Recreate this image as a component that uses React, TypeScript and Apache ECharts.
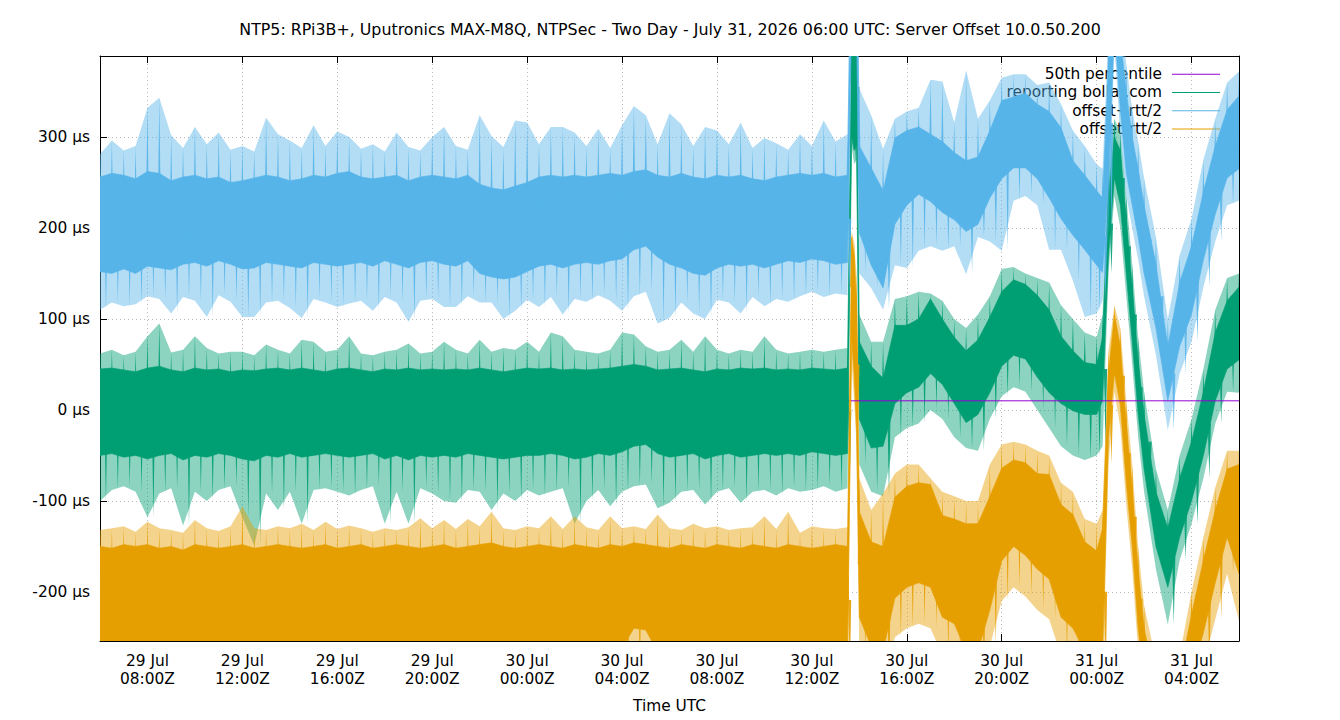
import React, { useEffect, useRef } from "react";
import * as echarts from "echarts";

// Hours on the x axis are counted from 29 Jul 00:00Z; samples are stored as hours after the first one.
const T0 = 6;
const X_MIN = 6;
const X_MAX = 54;
const Y_MIN = -254;
const Y_MAX = 389;
const MEDIAN_US = 10;
const DATA_GAP_HOUR = 31.65;

const TITLE =
  "NTP5: RPi3B+, Uputronics MAX-M8Q, NTPSec - Two Day - July 31, 2026 06:00 UTC: Server Offset 10.0.50.200";
const NAME_MEDIAN = "50th percentile";
const NAME_OFFSET = "reporting bollar.com";
const NAME_PLUS = "offset+rtt/2";
const NAME_MINUS = "offset-rtt/2";

const COLOR_MEDIAN = "#9400d3";
const COLOR_OFFSET = "#009e73";
const COLOR_PLUS = "#56b4e9";
const COLOR_MINUS = "#e69f00";

// Each row: [hour, spike low, band low, band high, spike high] in µs
type Row = [number, number, number, number, number];

const offsetRows: Row[] = [
  [0, -100, -50, 45, 62], [0.5, -88, -48, 46, 66], [1, -84, -52, 44, 60], [1.5, -90, -50, 42, 64],
  [2, -118, -54, 46, 81], [2.5, -92, -50, 48, 95], [3, -86, -48, 44, 63], [3.5, -127, -55, 42, 66],
  [4, -90, -50, 46, 81], [4.5, -100, -52, 44, 68], [5, -88, -48, 45, 62], [5.5, -84, -50, 42, 64],
  [6, -118, -54, 44, 64], [6.5, -149, -56, 43, 60], [7, -92, -50, 45, 72], [7.5, -110, -52, 46, 66],
  [8, -90, -48, 44, 62], [8.5, -125, -52, 46, 77], [9, -88, -50, 44, 75], [9.5, -86, -48, 42, 64],
  [10, -90, -50, 45, 66], [10.5, -94, -52, 46, 81], [11, -88, -50, 44, 62], [11.5, -84, -48, 42, 60],
  [12, -125, -54, 45, 64], [12.5, -90, -50, 44, 66], [13, -125, -55, 46, 73], [13.5, -86, -50, 44, 62],
  [14, -92, -52, 45, 64], [14.5, -100, -50, 44, 75], [15, -102, -52, 45, 66], [15.5, -88, -48, 44, 62],
  [16, -90, -50, 46, 77], [16.5, -110, -52, 44, 64], [17, -92, -54, 42, 68], [17.5, -100, -52, 44, 66],
  [18, -88, -50, 46, 75], [18.5, -94, -50, 45, 64], [19, -90, -48, 46, 85], [19.5, -86, -50, 44, 81],
  [20, -125, -54, 45, 66], [20.5, -100, -52, 44, 64], [21, -88, -48, 45, 62], [21.5, -106, -50, 46, 66],
  [22, -90, -46, 48, 85], [22.5, -84, -40, 50, 83], [23, -82, -38, 48, 70], [23.5, -108, -48, 44, 64],
  [24, -102, -52, 45, 66], [24.5, -90, -50, 46, 77], [25, -88, -48, 44, 64], [25.5, -104, -54, 42, 81],
  [26, -90, -50, 45, 66], [26.5, -86, -48, 44, 62], [27, -102, -52, 46, 66], [27.5, -90, -50, 45, 64],
  [28, -88, -48, 46, 81], [28.5, -94, -50, 44, 66], [29, -86, -48, 45, 62], [29.5, -90, -50, 44, 64],
  [30, -88, -46, 46, 66], [30.5, -84, -48, 45, 64], [31, -90, -50, 44, 66], [31.5, -86, -48, 46, 68],
  [31.68, 290, 300, 420, 450], [31.78, 270, 285, 410, 440], [31.88, 275, 290, 420, 450],
  [32, -60, -10, 75, 105], [32.5, -90, -42, 48, 75], [33, -95, -40, 35, 75], [33.5, -30, 7, 93, 122],
  [34, -20, 19, 93, 125], [34.5, -15, 25, 100, 130], [35, 0, 40, 122, 128], [35.5, -10, 28, 100, 120],
  [36, -30, 7, 80, 100], [36.5, -42, -14, 65, 90], [37, -45, -5, 77, 105], [37.5, -10, 19, 102, 125],
  [38, 15, 48, 130, 155], [38.5, 25, 60, 143, 157], [39, 20, 56, 138, 150], [39.5, 0, 36, 126, 145],
  [40, -20, 19, 110, 140], [40.5, -40, 7, 81, 115], [41, -50, -1, 65, 100], [41.5, -55, -5, 52, 85],
  [42, -50, -5, 50, 80], [42.25, -40, 10, 80, 105], [42.5, 150, 170, 240, 265], [42.75, 235, 255, 300, 320],
  [43, 200, 225, 285, 305], [43.25, 125, 150, 210, 235], [43.5, 50, 75, 135, 160], [43.75, -30, -5, 55, 80],
  [44, -90, -65, -5, 20], [44.5, -175, -150, -90, -65], [45, -236, -195, -130, -110], [45.5, -165, -140, -75, -50],
  [46, -125, -100, -35, -10], [46.5, -75, -50, 20, 45], [47, -15, 10, 85, 110], [47.5, 20, 45, 120, 145],
  [48, 19, 55, 135, 150],
];

const offsetPlusRows: Row[] = [
  [0, 110, 152, 256, 281], [0.5, 118, 150, 260, 296], [1, 114, 155, 258, 285], [1.5, 116, 150, 254, 290],
  [2, 125, 158, 262, 332], [2.5, 122, 156, 260, 343], [3, 106, 154, 252, 302], [3.5, 124, 160, 256, 288],
  [4, 120, 162, 258, 311], [4.5, 102, 158, 254, 292], [5, 126, 164, 256, 305], [5.5, 119, 160, 250, 286],
  [6, 102, 155, 252, 290], [6.5, 102, 156, 255, 284], [7, 118, 162, 258, 321], [7.5, 120, 160, 256, 303],
  [8, 112, 158, 252, 296], [8.5, 101, 156, 254, 288], [9, 122, 162, 258, 313], [9.5, 118, 160, 256, 290],
  [10, 113, 158, 260, 306], [10.5, 117, 160, 262, 300], [11, 120, 162, 256, 287], [11.5, 109, 158, 254, 292],
  [12, 124, 164, 256, 284], [12.5, 118, 160, 258, 305], [13, 97, 156, 252, 289], [13.5, 120, 162, 256, 285],
  [14, 122, 164, 258, 300], [14.5, 113, 160, 256, 311], [15, 113, 158, 254, 290], [15.5, 125, 164, 258, 286],
  [16, 118, 150, 248, 324], [16.5, 118, 146, 244, 301], [17, 100, 144, 242, 289], [17.5, 109, 146, 246, 318],
  [18, 121, 152, 250, 316], [18.5, 113, 158, 256, 292], [19, 124, 160, 258, 311], [19.5, 105, 156, 256, 311],
  [20, 122, 160, 258, 305], [20.5, 119, 162, 256, 290], [21, 126, 160, 258, 309], [21.5, 120, 164, 260, 288],
  [22, 109, 166, 258, 313], [22.5, 125, 176, 262, 334], [23, 130, 180, 264, 324], [23.5, 95, 168, 258, 292],
  [24, 101, 160, 256, 326], [24.5, 118, 156, 260, 314], [25, 106, 150, 256, 290], [25.5, 100, 148, 254, 311],
  [26, 121, 156, 258, 307], [26.5, 118, 160, 256, 292], [27, 106, 158, 258, 316], [27.5, 124, 160, 254, 288],
  [28, 114, 156, 252, 299], [28.5, 122, 160, 256, 293], [29, 119, 164, 258, 286], [29.5, 125, 162, 260, 303],
  [30, 130, 166, 258, 290], [30.5, 124, 164, 260, 318], [31, 128, 160, 256, 295], [31.5, 126, 162, 258, 303],
  [31.68, 420, 450, 560, 600], [31.78, 430, 460, 570, 610], [31.88, 400, 430, 540, 580],
  [32, 150, 195, 290, 353], [32.5, 134, 159, 266, 324], [33, 110, 134, 241, 287], [33.5, 159, 204, 299, 320],
  [34, 156, 225, 307, 328], [34.5, 175, 237, 311, 332], [35, 180, 229, 303, 363], [35.5, 175, 217, 295, 361],
  [36, 180, 209, 283, 316], [36.5, 149, 196, 274, 373], [37, 190, 204, 278, 320], [37.5, 185, 233, 307, 340],
  [38, 175, 254, 340, 365], [38.5, 230, 266, 344, 369], [39, 235, 266, 348, 369], [39.5, 225, 254, 336, 357],
  [40, 176, 233, 328, 360], [40.5, 176, 210, 310, 336], [41, 142, 192, 274, 307], [41.5, 102, 176, 258, 290],
  [42, 106, 159, 241, 270], [42.25, 120, 151, 233, 265], [42.5, 200, 250, 380, 420], [42.75, 400, 420, 520, 540],
  [43, 300, 330, 410, 440], [43.25, 235, 260, 350, 380], [43.5, 200, 225, 300, 330], [43.75, 165, 190, 265, 295],
  [44, 125, 150, 225, 255], [44.5, 60, 90, 160, 190], [45, -22, 10, 70, 100], [45.5, 40, 70, 140, 170],
  [46, 75, 105, 180, 210], [46.5, 135, 165, 240, 275], [47, 185, 215, 290, 320], [47.5, 225, 255, 330, 360],
  [48, 230, 265, 345, 372],
];

const offsetMinusRows: Row[] = [
  [0, -310, -268, -150, -132], [0.5, -310, -270, -152, -130], [1, -305, -266, -148, -128], [1.5, -310, -268, -150, -134],
  [2, -312, -270, -148, -123], [2.5, -308, -266, -152, -130], [3, -310, -268, -150, -132], [3.5, -306, -270, -154, -135],
  [4, -310, -268, -148, -121], [4.5, -312, -266, -150, -130], [5, -308, -268, -152, -133], [5.5, -310, -270, -150, -128],
  [6, -306, -266, -148, -106], [6.5, -310, -268, -152, -130], [7, -312, -270, -150, -132], [7.5, -308, -266, -148, -128],
  [8, -310, -268, -150, -130], [8.5, -306, -270, -152, -125], [9, -310, -268, -150, -132], [9.5, -312, -266, -148, -123],
  [10, -308, -268, -152, -131], [10.5, -310, -270, -150, -127], [11, -306, -266, -148, -130], [11.5, -310, -268, -152, -134],
  [12, -312, -270, -150, -130], [12.5, -308, -266, -148, -132], [13, -310, -268, -150, -129], [13.5, -306, -270, -152, -119],
  [14, -310, -268, -150, -130], [14.5, -312, -266, -148, -121], [15, -308, -268, -152, -131], [15.5, -310, -270, -150, -120],
  [16, -306, -266, -148, -128], [16.5, -310, -268, -146, -112], [17, -312, -270, -150, -130], [17.5, -308, -266, -152, -132],
  [18, -310, -268, -150, -128], [18.5, -306, -270, -148, -130], [19, -310, -268, -150, -117], [19.5, -312, -266, -152, -131],
  [20, -308, -268, -148, -117], [20.5, -310, -270, -150, -129], [21, -306, -266, -152, -132], [21.5, -310, -268, -148, -117],
  [22, -312, -262, -150, -130], [22.5, -290, -240, -146, -128], [23, -292, -242, -148, -131], [23.5, -308, -266, -150, -115],
  [24, -310, -268, -152, -130], [24.5, -312, -266, -148, -132], [25, -308, -268, -150, -125], [25.5, -310, -270, -152, -130],
  [26, -306, -266, -148, -128], [26.5, -310, -268, -150, -132], [27, -312, -270, -152, -130], [27.5, -308, -266, -148, -129],
  [28, -310, -268, -150, -117], [28.5, -306, -270, -152, -131], [29, -310, -268, -148, -112], [29.5, -312, -266, -150, -135],
  [30, -308, -268, -152, -128], [30.5, -310, -270, -150, -130], [31, -306, -266, -148, -131], [31.5, -310, -268, -150, -129],
  [31.68, 50, 80, 190, 196], [31.78, 10, 40, 170, 185], [31.88, -38, -20, 120, 150],
  [32, -270, -228, -112, -75], [32.5, -300, -260, -145, -110], [33, -305, -265, -150, -92], [33.5, -250, -207, -96, -70],
  [34, -240, -195, -84, -60], [34.5, -235, -190, -80, -60], [35, -240, -195, -82, -75], [35.5, -270, -228, -116, -90],
  [36, -280, -235, -120, -95], [36.5, -305, -265, -125, -100], [37, -305, -265, -125, -100], [37.5, -260, -220, -95, -60],
  [38, -210, -166, -64, -38], [38.5, -195, -150, -55, -35], [39, -205, -160, -58, -38], [39.5, -220, -175, -70, -45],
  [40, -230, -186, -71, -50], [40.5, -270, -228, -104, -80], [41, -285, -240, -115, -90], [41.5, -305, -265, -145, -120],
  [42, -320, -280, -155, -125], [42.25, -310, -270, -130, -110], [42.5, -60, -30, 40, 65], [42.75, 20, 40, 105, 115],
  [43, -20, 5, 70, 90], [43.25, -105, -80, -15, 10], [43.5, -175, -150, -85, -60], [43.75, -265, -240, -175, -150],
  [44, -330, -300, -240, -215], [44.5, -390, -360, -300, -275], [45, -410, -380, -320, -300], [45.5, -380, -350, -290, -270],
  [46, -320, -290, -225, -200], [46.5, -280, -245, -165, -140], [47, -230, -190, -110, -85], [47.5, -180, -140, -65, -45],
  [48, -232, -180, -60, -45],
];

const FONT = "'DejaVu Sans', 'Liberation Sans', sans-serif";
const TEXT_SIZE = 15.4;
const TITLE_SIZE = 15.85;

// Filled envelope between two columns of the rows, drawn as one polygon
function envelopeSeries(name: string, rows: Row[], color: string, loCol: number, hiCol: number, opacity: number, z: number) {
  return {
    type: "custom",
    name,
    z,
    clip: true,
    silent: true,
    itemStyle: { color },
    data: [[rows[0][0] + T0, rows[0][loCol]]],
    encode: { x: 0, y: 1 },
    renderItem: (_params: any, api: any) => {
      const top = rows.map((r) => api.coord([r[0] + T0, r[hiCol]]));
      const bottom = rows.map((r) => api.coord([r[0] + T0, r[loCol]])).reverse();
      return {
        type: "polygon",
        shape: { points: top.concat(bottom) },
        style: { fill: color, opacity, stroke: color, lineWidth: opacity < 1 ? 0 : 0.6 },
      };
    },
  };
}

// Narrow spikes: one up to the spike high at each sample, one down to the spike low half-way to the next
function spikeSeries(name: string, rows: Row[], color: string, z: number) {
  const data = rows.map((r, i) => {
    const next = rows[i + 1] ? rows[i + 1][0] : r[0] + 0.5;
    return [r[0] + T0, r[1], r[2], r[3], r[4], (r[0] + next) / 2 + T0];
  });
  return {
    type: "custom",
    name,
    z,
    clip: true,
    silent: true,
    itemStyle: { color },
    data,
    encode: { x: 0, y: 4 },
    renderItem: (_params: any, api: any) => {
      const t = api.value(0);
      const tMid = api.value(5);
      const mid = (api.value(2) + api.value(3)) / 2;
      const upBase = api.coord([t, mid]);
      const upTip = api.coord([t, api.value(4)]);
      const dnBase = api.coord([tMid, mid]);
      const dnTip = api.coord([tMid, api.value(1)]);
      const w = 1.6;
      const style = { fill: color, opacity: 0.9 };
      return {
        type: "group",
        children: [
          {
            type: "polygon",
            shape: { points: [[upBase[0] - w, upBase[1]], upTip, [upBase[0] + w, upBase[1]]] },
            style,
          },
          {
            type: "polygon",
            shape: { points: [[dnBase[0] - w, dnBase[1]], dnTip, [dnBase[0] + w, dnBase[1]]] },
            style,
          },
        ],
      };
    },
  };
}

function medianSeries(from: number, to: number, z: number) {
  return {
    type: "line",
    name: NAME_MEDIAN,
    z,
    data: [
      [from + T0, MEDIAN_US],
      [to + T0, MEDIAN_US],
    ],
    symbol: "none",
    showSymbol: false,
    silent: true,
    itemStyle: { color: COLOR_MEDIAN },
    lineStyle: { color: COLOR_MEDIAN, width: 1 },
  };
}

function trace(name: string, rows: Row[], color: string, z: number) {
  return [
    envelopeSeries(name, rows, color, 1, 4, 0.45, z),
    envelopeSeries(name, rows, color, 2, 3, 1, z + 1),
    spikeSeries(name, rows, color, z + 2),
  ];
}

function xLabel(v: number) {
  const day = 29 + Math.floor(v / 24);
  const hh = String(v % 24).padStart(2, "0");
  return `${day} Jul\n${hh}:00Z`;
}

export default function App() {
  const ref = useRef<HTMLDivElement>(null);

  useEffect(() => {
    document.body.style.margin = "0";
    if (!ref.current) return;
    const chart = echarts.init(ref.current, undefined, { renderer: "svg" });

    const dotted = { color: "#b8b8b8", width: 1, type: [1, 3] as number[] };
    const frame = { show: true, onZero: false, lineStyle: { color: "#000", width: 1 } };
    const tick = { show: true, inside: true, length: 7, lineStyle: { color: "#000" } };

    chart.setOption({
      animation: false,
      backgroundColor: "#fff",
      textStyle: { fontFamily: FONT, fontSize: TEXT_SIZE, color: "#000" },
      title: {
        text: TITLE,
        left: 670,
        textAlign: "center",
        top: 21,
        padding: 0,
        z: 0,
        textStyle: { fontFamily: FONT, fontSize: TITLE_SIZE, fontWeight: "normal", color: "#000" },
      },
      legend: {
        data: [NAME_MEDIAN, NAME_OFFSET, NAME_PLUS, NAME_MINUS],
        orient: "vertical",
        right: 120,
        top: 65,
        align: "right",
        icon: "rect",
        itemWidth: 48,
        itemHeight: 1,
        itemGap: 0,
        padding: 0,
        z: 0,
        selectedMode: false,
        textStyle: { fontFamily: FONT, fontSize: TEXT_SIZE, color: "#000", lineHeight: 18.3, padding: [0, 5, 0, 0] },
      },
      grid: { left: 100, right: 101, top: 56, bottom: 79, containLabel: false },
      xAxis: [
        {
          type: "value",
          min: X_MIN,
          max: X_MAX,
          minInterval: 4,
          maxInterval: 4,
          position: "bottom",
          name: "Time UTC",
          nameLocation: "middle",
          nameGap: 57,
          nameTextStyle: { fontFamily: FONT, fontSize: TEXT_SIZE, color: "#000" },
          axisLine: frame,
          axisTick: tick,
          axisLabel: {
            formatter: xLabel,
            showMinLabel: false,
            showMaxLabel: false,
            margin: 11,
            lineHeight: 18,
            fontFamily: FONT,
            fontSize: TEXT_SIZE,
            color: "#000",
          },
          splitLine: { show: true, lineStyle: dotted },
        },
        {
          type: "value",
          min: X_MIN,
          max: X_MAX,
          minInterval: 4,
          maxInterval: 4,
          position: "top",
          axisLine: frame,
          axisTick: tick,
          axisLabel: { show: false },
          splitLine: { show: false },
        },
      ],
      yAxis: [
        {
          type: "value",
          min: Y_MIN,
          max: Y_MAX,
          minInterval: 100,
          maxInterval: 100,
          position: "left",
          axisLine: frame,
          axisTick: tick,
          axisLabel: {
            formatter: (v: number) => `${v} µs`,
            showMinLabel: false,
            showMaxLabel: false,
            margin: 10,
            fontFamily: FONT,
            fontSize: TEXT_SIZE,
            color: "#000",
          },
          splitLine: { show: true, lineStyle: dotted },
        },
        {
          type: "value",
          min: Y_MIN,
          max: Y_MAX,
          position: "right",
          axisLine: frame,
          axisTick: { show: false },
          axisLabel: { show: false },
          splitLine: { show: false },
        },
      ],
      series: [
        medianSeries(0, DATA_GAP_HOUR, 1),
        ...trace(NAME_OFFSET, offsetRows, COLOR_OFFSET, 2),
        ...trace(NAME_PLUS, offsetPlusRows, COLOR_PLUS, 5),
        ...trace(NAME_MINUS, offsetMinusRows, COLOR_MINUS, 8),
        medianSeries(DATA_GAP_HOUR, 48, 11),
      ],
    });

    return () => chart.dispose();
  }, []);

  return <div ref={ref} style={{ width: 1340, height: 720 }} />;
}
